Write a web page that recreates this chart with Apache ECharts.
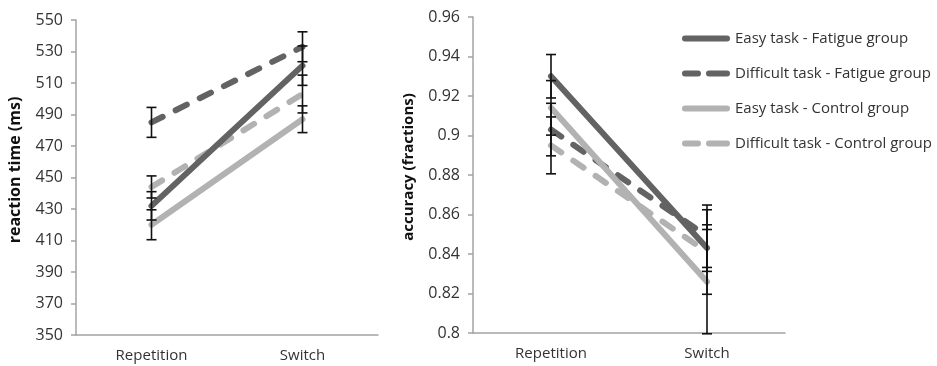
<!DOCTYPE html>
<html><head><meta charset="utf-8">
<script src="https://cdn.jsdelivr.net/npm/echarts@6/dist/echarts.min.js"></script>
<style>html,body{margin:0;padding:0;background:#fff}#c{width:937px;height:366px}</style>
</head><body><div id="c"></div>
<script>
const categories = ['Repetition', 'Switch'];
const seriesNames = ['Easy task - Fatigue group', 'Difficult task - Fatigue group', 'Easy task - Control group', 'Difficult task - Control group'];
// Reaction time (ms)
const rtEasyFatigue = [432, 521];
const rtDiffFatigue = [485, 533];
const rtEasyControl = [420, 487];
const rtDiffControl = [444, 503];
const rtErrEasyFatigue = [9, 12.5];
const rtErrDiffFatigue = [9.5, 9.5];
const rtErrEasyControl = [9.5, 8.5];
const rtErrDiffControl = [7, 12];
// Accuracy (fractions)
const accEasyFatigue = [0.930, 0.843];
const accDiffFatigue = [0.903, 0.849];
const accEasyControl = [0.914, 0.826];
const accDiffControl = [0.895, 0.841];
const accErrEasyFatigue = [0.011, 0.0118];
const accErrDiffFatigue = [0.0133, 0.0158];
const accErrEasyControl = [0.0138, 0.0264];
const accErrDiffControl = [0.0144, 0.0214];

const DARK = '#636363', LIGHT = '#b2b2b2';
const FONT = 'Open Sans';
const DASH = [12.5, 14.5];
const SOLID_ICON = 'path://M3,0 H45 A3,3 0 0 1 45,6 H3 A3,3 0 0 1 3,0 Z';
const DASH_ICON = 'path://M3,0 H16 A3,3 0 0 1 16,6 H3 A3,3 0 0 1 3,0 Z M27,0 H45 A3,3 0 0 1 45,6 H27 A3,3 0 0 1 27,0 Z';
const styles = [
  {color: DARK, type: 'solid', icon: SOLID_ICON},
  {color: DARK, type: DASH, icon: DASH_ICON},
  {color: LIGHT, type: 'solid', icon: SOLID_ICON},
  {color: LIGHT, type: DASH, icon: DASH_ICON}
];
function lineSeries(idx, data, axisIdx, z) {
  return {
    name: seriesNames[idx], type: 'line', xAxisIndex: axisIdx, yAxisIndex: axisIdx,
    data: data, symbol: 'none', z: z,
    lineStyle: {color: styles[idx].color, width: 6, type: styles[idx].type, cap: 'round'},
    itemStyle: {color: styles[idx].color},
    animation: false
  };
}
function errData(means, errs) {
  const out = [];
  means.forEach((m, mi) => {
    m.forEach((v, i) => out.push([i, v - errs[mi][i], v + errs[mi][i]]));
  });
  return out;
}
function errSeries(data, axisIdx) {
  return {
    type: 'custom', xAxisIndex: axisIdx, yAxisIndex: axisIdx, z: 10, animation: false,
    data: data, silent: true,
    renderItem: function (params, api) {
      const lo = api.coord([api.value(0), api.value(1)]);
      const hi = api.coord([api.value(0), api.value(2)]);
      const w = 5;
      const st = {stroke: '#111', lineWidth: 1.6};
      return {type: 'group', children: [
        {type: 'line', shape: {x1: lo[0], y1: lo[1], x2: hi[0], y2: hi[1]}, style: st},
        {type: 'line', shape: {x1: lo[0] - w, y1: lo[1], x2: lo[0] + w, y2: lo[1]}, style: st},
        {type: 'line', shape: {x1: hi[0] - w, y1: hi[1], x2: hi[0] + w, y2: hi[1]}, style: st}
      ]};
    }
  };
}
const axisLine = {lineStyle: {color: '#a3a3a3', width: 1.5}};
const axisTick = {lineStyle: {color: '#a3a3a3', width: 1.5}, length: 5};
const xLabel = {color: '#333', fontFamily: FONT, fontSize: 15};
const yLabel = {color: '#333', fontFamily: FONT, fontSize: 16};
const chart = echarts.init(document.getElementById('c'));
chart.setOption({
  animation: false,
  grid: [
    {left: 76, top: 20, width: 302, height: 315},
    {left: 473, top: 17, width: 312, height: 316}
  ],
  legend: {
    orient: 'vertical', left: 682, top: 31, padding: 0, itemWidth: 48, itemHeight: 6, itemGap: 20,
    data: seriesNames.map((n, i) => ({name: n, icon: styles[i].icon})),
    itemStyle: {borderWidth: 0},
    textStyle: {color: '#333', fontFamily: FONT, fontSize: 15}
  },
  xAxis: [0, 1].map(i => ({
    type: 'category', gridIndex: i, data: categories, boundaryGap: true,
    axisLine: axisLine, axisTick: axisTick, axisLabel: Object.assign({margin: 13}, xLabel)
  })),
  yAxis: [
    {type: 'value', gridIndex: 0, min: 350, max: 550, interval: 20,
     name: 'reaction time (ms)', nameLocation: 'middle', nameGap: 53,
     nameTextStyle: {color: '#111', fontFamily: FONT, fontSize: 16, fontWeight: 'bold', padding: [0, 0, 0, 15]},
     axisLine: Object.assign({show: true}, axisLine), axisTick: Object.assign({show: true}, axisTick),
     splitLine: {show: false}, axisLabel: Object.assign({margin: 13}, yLabel)},
    {type: 'value', gridIndex: 1, min: 0.8, max: 0.96, interval: 0.02,
     name: 'accuracy (fractions)', nameLocation: 'middle', nameGap: 57,
     nameTextStyle: {color: '#111', fontFamily: FONT, fontSize: 15, fontWeight: 'bold', padding: [0, 0, 0, 16]},
     axisLine: Object.assign({show: true}, axisLine), axisTick: Object.assign({show: true}, axisTick),
     splitLine: {show: false},
     axisLabel: Object.assign({margin: 13, formatter: v => String(+v.toFixed(2))}, yLabel)}
  ],
  series: [
    lineSeries(2, rtEasyControl, 0, 2),
    lineSeries(3, rtDiffControl, 0, 3),
    lineSeries(0, rtEasyFatigue, 0, 4),
    lineSeries(1, rtDiffFatigue, 0, 5),
    lineSeries(0, accEasyFatigue, 1, 2),
    lineSeries(1, accDiffFatigue, 1, 3),
    lineSeries(2, accEasyControl, 1, 4),
    lineSeries(3, accDiffControl, 1, 5),
    errSeries(errData([rtEasyFatigue, rtDiffFatigue, rtEasyControl, rtDiffControl],
      [rtErrEasyFatigue, rtErrDiffFatigue, rtErrEasyControl, rtErrDiffControl]), 0),
    errSeries(errData([accEasyFatigue, accDiffFatigue, accEasyControl, accDiffControl],
      [accErrEasyFatigue, accErrDiffFatigue, accErrEasyControl, accErrDiffControl]), 1)
  ]
});
</script></body></html>
